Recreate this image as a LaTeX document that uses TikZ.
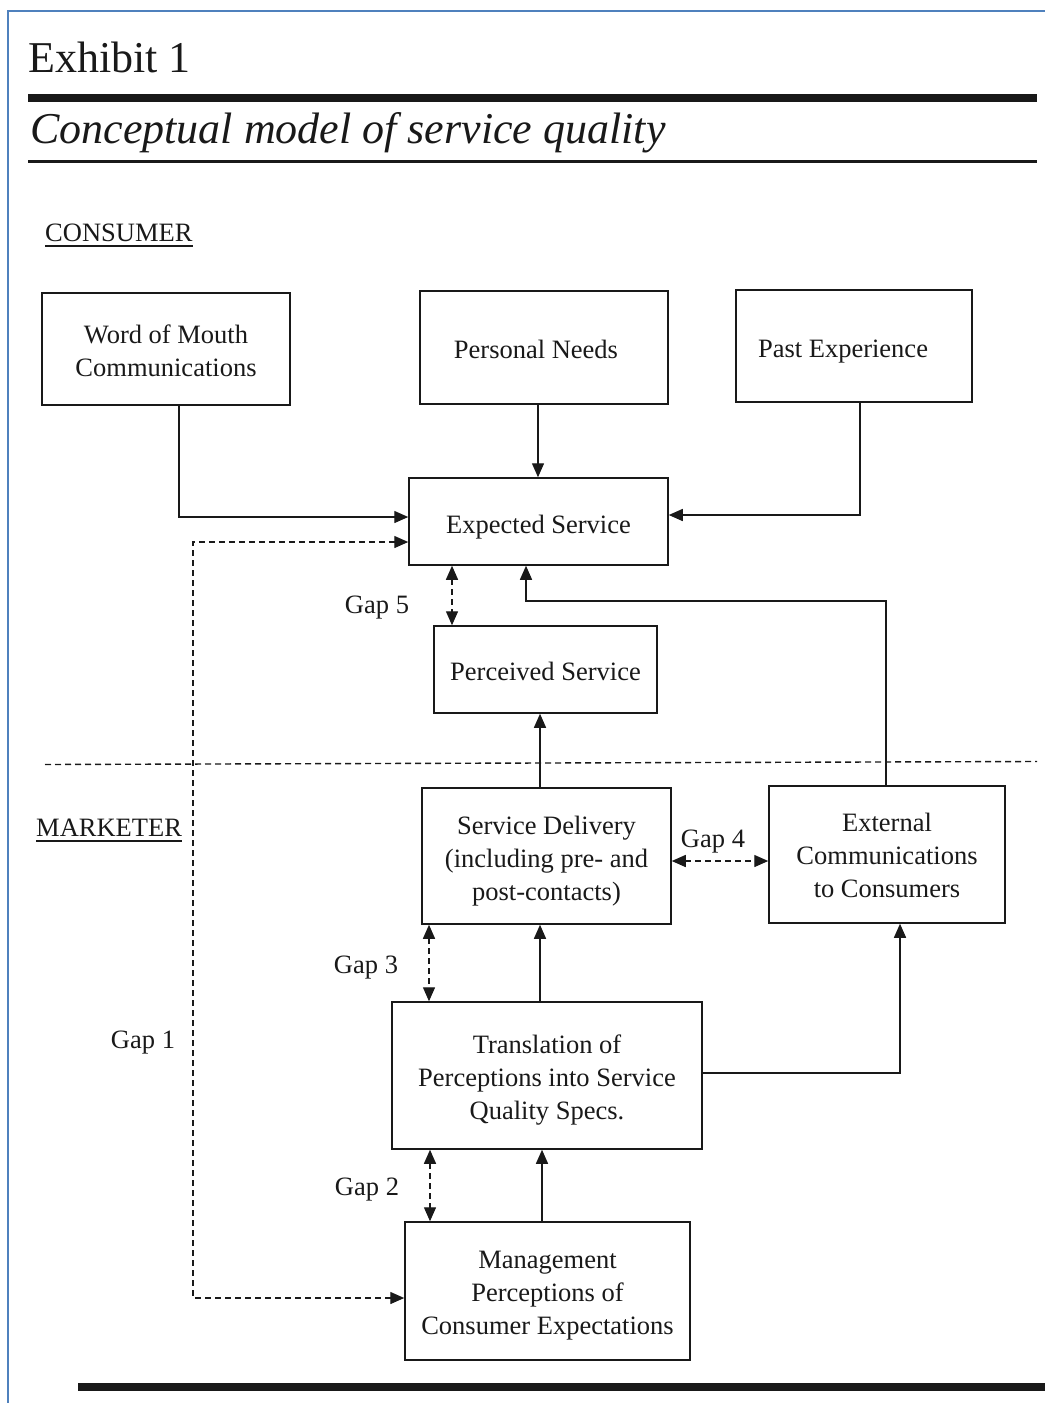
\documentclass[tikz,border=0pt]{standalone}
\usepackage{fontspec}
\setmainfont{Liberation Serif}
\usetikzlibrary{arrows.meta}
\newcommand\boxfont{\fontsize{26.5}{33}\selectfont}
\newcommand\titlefont{\fontsize{44}{50}\selectfont}
% shifted box text: #1 = horizontal shift, #2 = vertical shift, #3 = text
\newcommand\boxtxt[3]{\raisebox{#2}[\height][\depth]{\hspace*{#1}\begin{tabular}{@{}c@{}}#3\end{tabular}\hspace*{-#1}}}
\definecolor{frameblue}{RGB}{79,129,189}
\definecolor{ink}{RGB}{25,25,25}
\begin{document}
\begin{tikzpicture}[x=1pt,y=-1pt,
  box/.style={draw=ink, line width=1.5pt, inner sep=0pt, align=center, font=\boxfont, text=ink},
  lbl/.style={inner sep=0pt, font=\boxfont, text=ink},
  arr/.style={draw=ink, line width=1.4pt, -{Triangle[length=14pt,width=12pt]}},
  darr/.style={draw=ink, line width=1.4pt, dash pattern=on 6pt off 4pt, {Triangle[length=14pt,width=12pt]}-{Triangle[length=14pt,width=12pt]}},
  sep/.style={draw=ink, line width=1.4pt, dash pattern=on 6pt off 4pt},
  rule/.style={draw=ink, line cap=butt}]
\useasboundingbox (0,0) rectangle (1045,1403);
\fill[white] (0,0) rectangle (1045,1403);
% frame
\draw[frameblue, line width=2pt] (8,1403) -- (8,11) -- (1045,11);
% header
\node[lbl, font=\titlefont, anchor=base west] (exh) at (28,72) {Exhibit 1};
\draw[rule, line width=8.5pt] (28,98) -- (1037,98);
\node[lbl, font=\titlefont\itshape, anchor=base west] (ttl) at (30,143) {Conceptual model of service quality};
\draw[rule, line width=3pt] (28,161.5) -- (1037,161.5);
\draw[rule, line width=8.5pt] (78,1387) -- (1045,1387);
% section labels
\node[lbl, anchor=base west] (con) at (45,241) {CONSUMER};
\draw[ink, line width=1.5pt] ([yshift=-5pt]con.base west) -- ([yshift=-5pt]con.base east);
\node[lbl, anchor=base west] (mkt) at (36,836) {MARKETER};
\draw[ink, line width=1.5pt] ([yshift=-5pt]mkt.base west) -- ([yshift=-5pt]mkt.base east);
\draw[sep] (45,764.5) -- (1037,761.5);
% boxes
\node[box, minimum width=248pt, minimum height=112pt] (wom) at (166,349) {\boxtxt{0pt}{-4pt}{Word of Mouth\\Communications}};
\node[box, minimum width=248pt, minimum height=113pt] (pn) at (544,347.5) {\boxtxt{-8pt}{-4pt}{Personal Needs}};
\node[box, minimum width=236pt, minimum height=112pt] (pe) at (854,346) {\boxtxt{-11pt}{-5pt}{Past Experience}};
\node[box, minimum width=259pt, minimum height=87pt] (es) at (538.5,521.5) {\boxtxt{0pt}{-5pt}{Expected Service}};
\node[box, minimum width=223pt, minimum height=87pt] (ps) at (545.5,669.5) {\boxtxt{0pt}{-4pt}{Perceived Service}};
\node[box, minimum width=249pt, minimum height=136pt] (sd) at (546.5,856) {\boxtxt{0pt}{-5pt}{Service Delivery\\(including pre- and\\post-contacts)}};
\node[box, minimum width=236pt, minimum height=137pt] (ec) at (887,854.5) {\boxtxt{0pt}{-3pt}{External\\Communications\\to Consumers}};
\node[box, minimum width=310pt, minimum height=147pt] (tr) at (547,1075.5) {\boxtxt{0pt}{-4pt}{Translation of\\Perceptions into Service\\Quality Specs.}};
\node[box, minimum width=285pt, minimum height=138pt] (mg) at (547.5,1291) {\boxtxt{0pt}{-4pt}{Management\\Perceptions of\\Consumer Expectations}};
% gap labels
\node[lbl] (g5) at (377,607.5) {Gap 5};
\node[lbl] (g4) at (713,841.5) {Gap 4};
\node[lbl] (g3) at (366,967.5) {Gap 3};
\node[lbl] (g2) at (367,1189.5) {Gap 2};
\node[lbl] (g1) at (143,1042.5) {Gap 1};
% connectors
\draw[arr] (wom.south -| 179,0) |- (es.west |- 0,517);
\draw[arr] (pn.south -| 538,0) -- (es.north -| 538,0);
\draw[arr] (pe.south -| 860,0) |- (es.east |- 0,515);
\draw[darr] (es.west |- 0,542) -| (193,1298) -- (mg.west |- 0,1298);
\draw[darr] (es.south -| 452,0) -- (ps.north -| 452,0);
\draw[arr] (ec.north -| 886,0) |- (526,601) -- (es.south -| 526,0);
\draw[arr] (sd.north -| 540,0) -- (ps.south -| 540,0);
\draw[darr] (sd.east |- 0,861) -- (ec.west |- 0,861);
\draw[darr] (sd.south -| 429,0) -- (tr.north -| 429,0);
\draw[arr] (tr.north -| 540,0) -- (sd.south -| 540,0);
\draw[arr] (tr.east |- 0,1073) -| (ec.south -| 900,0);
\draw[darr] (tr.south -| 430,0) -- (mg.north -| 430,0);
\draw[arr] (mg.north -| 542,0) -- (tr.south -| 542,0);
\end{tikzpicture}
\end{document}
